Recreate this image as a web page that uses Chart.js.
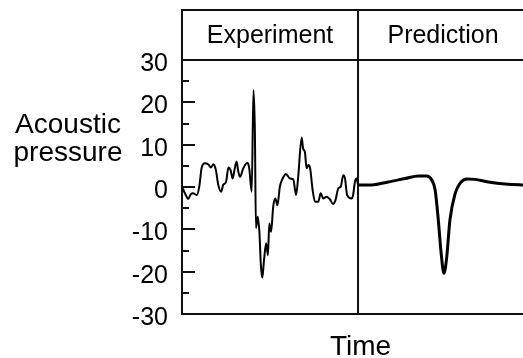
<!DOCTYPE html>
<html>
<head>
<meta charset="utf-8">
<script src="https://cdn.jsdelivr.net/npm/chart.js@4.4.0/dist/chart.umd.min.js"></script>
<style>
  html, body { margin: 0; padding: 0; background: #fff; overflow: hidden; }
  canvas { display: block; }
</style>
</head>
<body>
<canvas id="chart" width="545" height="358"></canvas>
<script>
// panel headers and where the experiment panel ends on the time axis
const panelLabels = ['Experiment', 'Prediction'];
const panelSplit = 50;

// y axis ticks
const yTickValues = [-30, -20, -10, 0, 10, 20, 30];
const yMinorTicks = [-25, -15, -5, 5, 15, 25];

const expTime = [0.2, 0.85, 1.8, 2.5, 3.2, 4.2, 4.9, 5.6, 6.5, 7.5, 8.2, 8.9, 9.6,
  10.3, 11.1, 11.7, 12.5, 13.2, 13.8, 14.4, 14.9, 15.5, 16.0, 16.5, 17.4,
  18.6, 19.1, 19.8, 20.3, 20.7, 21.0, 21.5, 22.0, 22.4, 22.8, 23.3, 23.9,
  24.4, 24.8, 25.3, 25.9, 26.5, 27.1, 27.8, 28.6, 29.5, 30.7, 31.6, 32.4,
  33.0, 34.0, 34.4, 34.9, 35.4, 35.9, 36.4, 37.1, 37.8, 38.7, 39.4, 40.1,
  41.1, 42.0, 42.9, 43.6, 44.4, 45.1, 45.8, 46.3, 46.9, 48.2, 48.6, 49.1, 49.6, 50.0];
const expPressure = [-0.3, -1.5, -2.8, -1.7, -1.5, -1.9, 0.1, 4.6, 5.6, 5.3, 4.6, 5.4, 4.1,
  0.5, -1.1, 0.5, 1.2, 4.6, 4.0, 2.0, 4.0, 6.0, 3.6, 2.4, 4.4,
  5.7, 4.4, -1.1, 22.9, 13.1, -9.7, -7.0, -10.9, -18.4, -21.4, -17.2, -13.3,
  -16.1, -8.6, -10.6, -4.7, -2.7, -4.3, 0.1, 2.0, 3.1, 2.0, 1.8, -1.9,
  2.4, 11.7, 9.1, 8.3, 4.4, 5.2, 4.4, -0.7, -3.5, -3.5, -1.5, -2.7,
  -2.3, -2.9, -4.0, -3.1, -0.3, 0.1, 2.8, 2.0, -1.9, -2.7, -1.9, 1.2, 2.0, 0.5];

// predicted trace
const predTime = [50.0, 53.9, 58.6, 63.4, 67.1, 69.5, 70.9, 71.9, 72.8, 73.6, 74.4,
  75.2, 76.1, 77.6, 79.0, 80.9, 83.2, 87.0, 91.8, 96.5, 101.4];
const predPressure = [0.5, 0.5, 1.2, 2.0, 2.6, 2.6, 1.7, -0.7, -7.8, -15.6, -20.4,
  -16.5, -7.8, -1.5, 0.9, 1.9, 1.8, 1.2, 0.7, 0.5, 0.4];

const toPoints = (xs, ys) => xs.map((x, i) => ({ x: x, y: ys[i] }));

Chart.defaults.font.family = '"Liberation Sans", Arial, sans-serif';
Chart.defaults.color = '#000';

// box around the panels, inward ticks and the loose labels
const framePlugin = {
  id: 'frame',
  beforeDatasetsDraw(chart) {
    const { ctx, chartArea: a, scales: { x, y } } = chart;
    const split = x.getPixelForValue(panelSplit);
    const headTop = a.top - 50;
    ctx.save();
    ctx.strokeStyle = '#111';
    ctx.lineWidth = 2;
    ctx.beginPath();
    ctx.moveTo(a.left - 1, headTop); ctx.lineTo(a.right, headTop);
    ctx.moveTo(a.left, a.top); ctx.lineTo(a.right, a.top);
    ctx.moveTo(a.left - 1, a.bottom); ctx.lineTo(a.right, a.bottom);
    ctx.moveTo(a.left, headTop); ctx.lineTo(a.left, a.bottom);
    ctx.moveTo(split, headTop); ctx.lineTo(split, a.bottom);
    ctx.moveTo(a.right, headTop); ctx.lineTo(a.right, a.bottom);
    yTickValues.forEach(v => {
      const py = Math.round(y.getPixelForValue(v));
      ctx.moveTo(a.left, py); ctx.lineTo(a.left + 13, py);
    });
    yMinorTicks.forEach(v => {
      const py = Math.round(y.getPixelForValue(v));
      ctx.moveTo(a.left, py); ctx.lineTo(a.left + 7, py);
    });
    ctx.stroke();

    ctx.fillStyle = '#000';
    ctx.textAlign = 'center';
    ctx.textBaseline = 'alphabetic';
    ctx.font = '25px "Liberation Sans", Arial, sans-serif';
    ctx.fillText(panelLabels[0], (a.left + split) / 2, 43);
    ctx.fillText(panelLabels[1], split + 85, 43);
    ctx.font = '28px "Liberation Sans", Arial, sans-serif';
    ctx.fillText('Acoustic', 68, 133);
    ctx.fillText('pressure', 68, 161);
    ctx.restore();
  }
};

new Chart('chart', {
  type: 'line',
  data: {
    datasets: [{
      label: panelLabels[0],
      data: toPoints(expTime, expPressure),
      borderColor: '#000',
      borderWidth: 2,
      pointRadius: 0,
      cubicInterpolationMode: 'monotone'
    }, {
      label: panelLabels[1],
      data: toPoints(predTime, predPressure),
      borderColor: '#000',
      borderWidth: 3,
      pointRadius: 0,
      cubicInterpolationMode: 'monotone'
    }]
  },
  options: {
    responsive: false,
    animation: false,
    layout: { padding: { top: 60, right: 6, bottom: 0, left: 0 } },
    plugins: { legend: { display: false }, tooltip: { enabled: false } },
    scales: {
      x: {
        type: 'linear',
        min: 0,
        max: 101.4,
        grid: { display: false },
        border: { display: false },
        ticks: { display: false },
        title: {
          display: true, text: 'Time', color: '#000',
          font: { size: 28, lineHeight: 1 },
          padding: { top: 0, bottom: -3 }
        },
        afterFit: s => { s.height = 44; }
      },
      y: {
        min: -30,
        max: 30,
        grid: { display: false, drawTicks: false },
        border: { display: false },
        afterBuildTicks: s => { s.ticks = yTickValues.map(v => ({ value: v })); },
        ticks: { font: { size: 25 }, color: '#000', padding: 14, labelOffset: 4 },
        afterFit: s => { s.width = 182; }
      }
    }
  },
  plugins: [framePlugin]
});
</script>
</body>
</html>
